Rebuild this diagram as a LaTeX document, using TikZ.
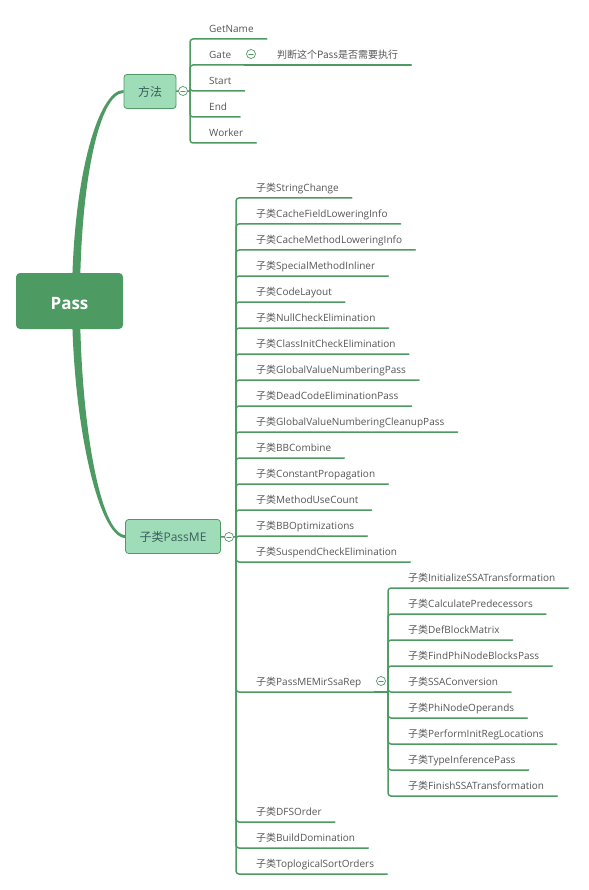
\documentclass[tikz,border=0pt]{standalone}
\usepackage{fontspec}
\setmainfont{Open Sans}
\newfontfamily\cjk{Noto Sans CJK SC}
\usepackage{tikz}
\usetikzlibrary{backgrounds,positioning}
\definecolor{passGreen}{HTML}{4E9A63}
\definecolor{passLight}{HTML}{9FDDB9}
\definecolor{passInk}{HTML}{3A5E5C}
\definecolor{passText}{HTML}{555555}
\newcommand\zl{{\cjk 子类}}
\tikzset{
  pass map/.style={x=1pt, y=-1pt, line cap=round, line join=round},
  pass root/.style={fill=passGreen, rounded corners=4pt, text=white,
    font=\bfseries\fontsize{17}{19}\selectfont, text height=12pt, text depth=0pt,
    minimum width=107pt, minimum height=56pt, inner sep=0pt},
  pass topic/.style={draw=passGreen, fill=passLight, line width=0.8pt,
    rounded corners=3pt, text=passInk, font=\fontsize{12}{14}\selectfont,
    minimum height=34pt, inner xsep=14pt, inner ysep=0pt},
  pass leaf/.style={anchor=south west, text=passText,
    font=\fontsize{10}{12}\selectfont, inner xsep=13pt, inner ysep=3.5pt,
    text height=7.5pt, text depth=2.5pt},
  pass branch/.style={draw=passGreen, line width=1.5pt, rounded corners=3pt},
  pass stem/.style={fill=passGreen},
  pass fold/.style={circle, draw=passGreen, fill=white, line width=0.7pt,
    minimum size=9pt, inner sep=0pt,
    path picture={\draw[passGreen, line width=0.6pt]
      ([xshift=-2.3pt]path picture bounding box.center) --
      ([xshift=2.3pt]path picture bounding box.center);}}
}

\begin{document}
\begin{tikzpicture}[pass map]
\useasboundingbox (0,0) rectangle (588,890);
\node[pass root] (root) at (69.5,301) {\raisebox{-2.5pt}{Pass}};
\node[pass topic] (fangfa) at (150,91.5) {\cjk 方法};
\node[pass topic] (passme) at (173,536.5) {\zl PassME};
\begin{scope}[on background layer]
\fill[pass stem] ([xshift=2.5pt]root.center) .. controls (72,180) and (98,89.5) .. ([yshift=1.5pt]fangfa.west)
  -- ([yshift=-1.5pt]fangfa.west) .. controls (100,92.5) and (80,180) .. ([xshift=10.5pt]root.center) -- cycle;
\fill[pass stem] ([xshift=2.5pt]root.center) .. controls (72,420) and (98,537.5) .. ([yshift=-1.5pt]passme.west)
  -- ([yshift=1.5pt]passme.west) .. controls (100,534.5) and (80,420) .. ([xshift=10.5pt]root.center) -- cycle;
\end{scope}

\coordinate (ff-j) at (190,91);
\foreach \name/\txt/\y in {m-getname/GetName/39, m-gate/Gate/65, m-start/Start/91,
    m-end/End/117, m-worker/Worker/143}{
  \node[pass leaf] (\name) at (196,\y) {\txt};
  \draw[pass branch] (ff-j) |- (\name.south east);
}
\node[pass leaf] (gate-note) at (264,65) {\cjk 判断这个Pass是否需要执行};
\draw[pass branch] (m-gate.south east) -- (gate-note.south east);
\draw[pass branch] (fangfa) -- (ff-j);
\node[pass fold] (f-fangfa) at (183,91) {};
\node[pass fold] (f-gate) at (251,54) {};

\coordinate (pm-j) at (236,537);
\foreach \name/\txt/\y in {pm-1/StringChange/198, pm-2/CacheFieldLoweringInfo/224,
    pm-3/CacheMethodLoweringInfo/250, pm-4/SpecialMethodInliner/276,
    pm-5/CodeLayout/302, pm-6/NullCheckElimination/328,
    pm-7/ClassInitCheckElimination/354, pm-8/GlobalValueNumberingPass/380,
    pm-9/DeadCodeEliminationPass/406, pm-10/GlobalValueNumberingCleanupPass/432,
    pm-11/BBCombine/458, pm-12/ConstantPropagation/484,
    pm-13/MethodUseCount/510, pm-14/BBOptimizations/536,
    pm-15/SuspendCheckElimination/562, pm-ssarep/PassMEMirSsaRep/692,
    pm-dfs/DFSOrder/822, pm-dom/BuildDomination/848,
    pm-topo/ToplogicalSortOrders/874}{
  \node[pass leaf] (\name) at (243,\y) {\zl\txt};
  \draw[pass branch] (pm-j) |- (\name.south east);
}
\draw[pass branch] (passme) -- (pm-j);
\node[pass fold] (f-passme) at (229,537) {};

\coordinate (ssa-j) at (388,692);
\draw[pass branch] (pm-ssarep.south east) -- (ssa-j);
\foreach \txt [count=\i] in {InitializeSSATransformation, CalculatePredecessors,
    DefBlockMatrix, FindPhiNodeBlocksPass, SSAConversion, PhiNodeOperands,
    PerformInitRegLocations, TypeInferencePass, FinishSSATransformation}{
  \node[pass leaf] (ssa-\i) at (395,{562+26*\i}) {\zl\txt};
  \draw[pass branch] (ssa-j) |- (ssa-\i.south east);
}
\node[pass fold] (f-ssarep) at (381,681) {};
\end{tikzpicture}
\end{document}
